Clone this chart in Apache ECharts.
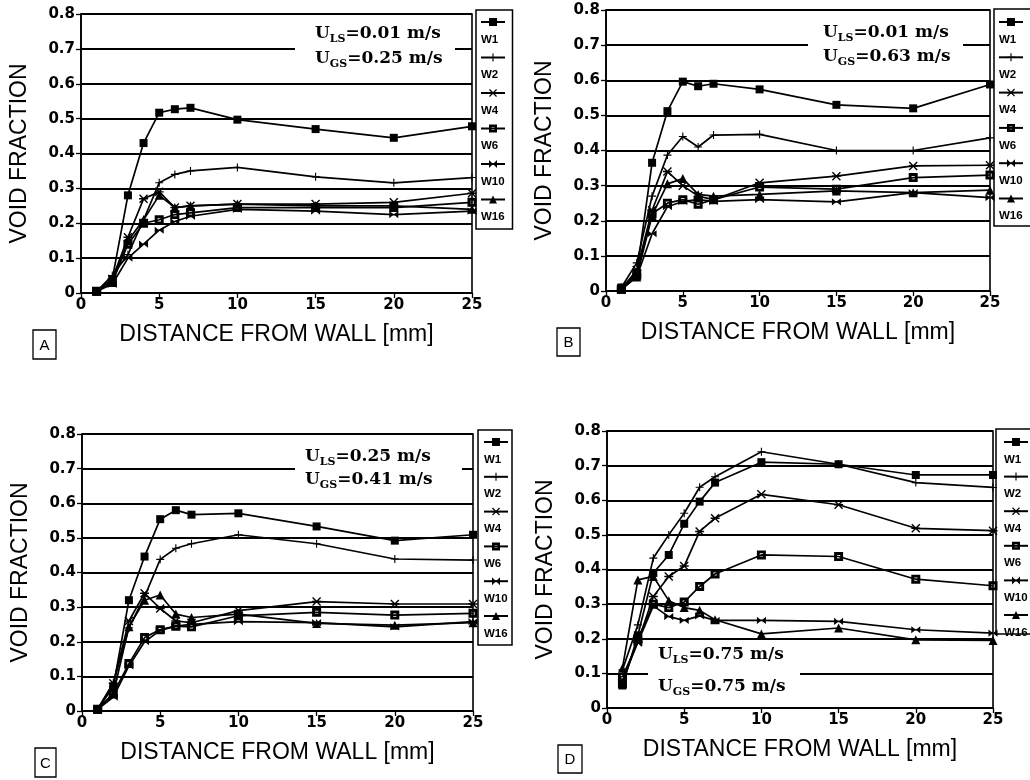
<!DOCTYPE html>
<html>
<head>
<meta charset="utf-8">
<title>Void fraction profiles</title>
<script src="https://cdn.jsdelivr.net/npm/echarts@6.0.0/dist/echarts.min.js"></script>
<style>
  html, body { margin: 0; padding: 0; background: #fff; }
  #chart { width: 1030px; height: 780px; }
</style>
</head>
<body>
<div id="chart"></div>
<script>
// Distance from the wall [mm] at which each probe reading was taken
const distance = [1, 2, 3, 4, 5, 6, 7, 10, 15, 20, 25];
const wallNames = ['W1', 'W2', 'W4', 'W6', 'W10', 'W16'];
const xTicks = [0, 5, 10, 15, 20, 25];
const yTicks = [0, 0.1, 0.2, 0.3, 0.4, 0.5, 0.6, 0.7, 0.8];

// Panel A: U_LS = 0.01 m/s, U_GS = 0.25 m/s
const aW1  = [0.005, 0.04, 0.28, 0.43, 0.517, 0.527, 0.531, 0.497, 0.47, 0.445, 0.478];
const aW2  = [0.005, 0.05, 0.11, 0.21, 0.316, 0.34, 0.35, 0.36, 0.333, 0.316, 0.331];
const aW4  = [0.005, 0.04, 0.16, 0.27, 0.29, 0.245, 0.25, 0.255, 0.255, 0.26, 0.286];
const aW6  = [0.005, 0.03, 0.14, 0.20, 0.21, 0.225, 0.23, 0.245, 0.245, 0.245, 0.26];
const aW10 = [0.005, 0.025, 0.10, 0.14, 0.18, 0.205, 0.22, 0.24, 0.235, 0.225, 0.235];
const aW16 = [0.005, 0.03, 0.15, 0.21, 0.28, 0.245, 0.25, 0.255, 0.25, 0.25, 0.24];

// Panel B: U_LS = 0.01 m/s, U_GS = 0.63 m/s
const bW1  = [0.01, 0.05, 0.365, 0.512, 0.596, 0.583, 0.59, 0.574, 0.53, 0.52, 0.588];
const bW2  = [0.01, 0.08, 0.27, 0.387, 0.44, 0.41, 0.444, 0.446, 0.40, 0.40, 0.436];
const bW4  = [0.005, 0.06, 0.23, 0.34, 0.30, 0.27, 0.26, 0.308, 0.327, 0.356, 0.358];
const bW6  = [0.005, 0.05, 0.22, 0.25, 0.26, 0.247, 0.26, 0.296, 0.29, 0.323, 0.33];
const bW10 = [0.005, 0.04, 0.163, 0.24, 0.255, 0.26, 0.255, 0.26, 0.254, 0.28, 0.266];
const bW16 = [0.005, 0.04, 0.215, 0.305, 0.32, 0.275, 0.27, 0.275, 0.285, 0.28, 0.287];

// Panel C: U_LS = 0.25 m/s, U_GS = 0.41 m/s
const cW1  = [0.005, 0.07, 0.32, 0.446, 0.554, 0.58, 0.567, 0.571, 0.533, 0.492, 0.509];
const cW2  = [0.005, 0.08, 0.24, 0.33, 0.438, 0.47, 0.483, 0.509, 0.483, 0.439, 0.436];
const cW4  = [0.005, 0.08, 0.26, 0.34, 0.296, 0.26, 0.255, 0.29, 0.316, 0.309, 0.309];
const cW6  = [0.005, 0.05, 0.137, 0.212, 0.235, 0.245, 0.243, 0.275, 0.285, 0.277, 0.282];
const cW10 = [0.005, 0.04, 0.13, 0.20, 0.233, 0.245, 0.25, 0.258, 0.255, 0.243, 0.258];
const cW16 = [0.005, 0.05, 0.243, 0.32, 0.335, 0.28, 0.27, 0.28, 0.253, 0.248, 0.255];

// Panel D: U_LS = 0.75 m/s, U_GS = 0.75 m/s
const dW1  = [0.065, 0.21, 0.39, 0.442, 0.532, 0.596, 0.651, 0.71, 0.704, 0.673, 0.673];
const dW2  = [0.11, 0.24, 0.433, 0.50, 0.5625, 0.6375, 0.668, 0.74, 0.704, 0.651, 0.637];
const dW4  = [0.08, 0.19, 0.322, 0.38, 0.41, 0.51, 0.548, 0.617, 0.587, 0.519, 0.512];
const dW6  = [0.07, 0.20, 0.30, 0.29, 0.306, 0.351, 0.387, 0.442, 0.4375, 0.372, 0.353];
const dW10 = [0.09, 0.19, 0.295, 0.264, 0.253, 0.266, 0.253, 0.253, 0.25, 0.226, 0.216];
const dW16 = [0.115, 0.37, 0.38, 0.31, 0.29, 0.282, 0.255, 0.214, 0.231, 0.197, 0.195];

const panelLetters = ['A', 'B', 'C', 'D'];
const ulsValues = ['0.01', '0.01', '0.25', '0.75'];
const ugsValues = ['0.25', '0.63', '0.41', '0.75'];
const panelSeries = [
  [aW1, aW2, aW4, aW6, aW10, aW16],
  [bW1, bW2, bW4, bW6, bW10, bW16],
  [cW1, cW2, cW4, cW6, cW10, cW16],
  [dW1, dW2, dW4, dW6, dW10, dW16]
];

// Marker shapes for each wall position
const markers = {
  W1:  { symbol: 'rect', size: 8 },
  W2:  { symbol: 'path://M4.3,0 L5.7,0 L5.7,4.3 L10,4.3 L10,5.7 L5.7,5.7 L5.7,10 L4.3,10 L4.3,5.7 L0,5.7 L0,4.3 L4.3,4.3 Z', size: 8 },
  W4:  { symbol: 'path://M0,4.2 L10,4.2 L10,5.8 L0,5.8 Z M1.1,0 L10,8.9 L8.9,10 L0,1.1 Z M8.9,0 L10,1.1 L1.1,10 L0,8.9 Z', size: 9 },
  W6:  { symbol: 'path://M0,0 L10,0 L10,10 L0,10 Z M3.2,3.2 L3.2,6.8 L6.8,6.8 L6.8,3.2 Z', size: 9 },
  W10: { symbol: 'path://M0,0 L5,4 L0,8 Z M10,0 L5,4 L10,8 Z', size: 9 },
  W16: { symbol: 'triangle', size: 9 }
};

// Geometry of the four panels (plot rectangles and decorations)
const panels = [
  { left: 81,  top: 14,  right: 472, bottom: 293,
    note: { x: 315, y1: 34, y2: 59, box: [295, 22, 160, 48] },
    legendX: 480, legendY: 23, legendStep: 35.5, legendBox: [476, 10, 36.5, 219],
    letterBox: [33, 330, 23, 29] },
  { left: 606, top: 10,  right: 990, bottom: 291,
    note: { x: 823, y1: 33, y2: 57, box: [808, 20, 155, 48] },
    legendX: 998, legendY: 23, legendStep: 35.3, legendBox: [994, 9, 50, 217],
    letterBox: [557, 328, 23, 28] },
  { left: 82,  top: 434, right: 473, bottom: 711,
    note: { x: 305, y1: 457, y2: 480, box: [295, 444, 167, 48] },
    legendX: 483, legendY: 443, legendStep: 34.8, legendBox: [478, 430, 34, 215],
    letterBox: [35, 748, 21, 29] },
  { left: 607, top: 431, right: 993, bottom: 708,
    note: { x: 658, y1: 655, y2: 687, box: [648, 642, 152, 58] },
    legendX: 1003, legendY: 443, legendStep: 34.6, legendBox: [996, 429, 50, 205],
    letterBox: [558, 745, 24, 28] }
];

const W = 1030, H = 780;
const ICON_H = 10;
const grids = [], xAxes = [], yAxes = [], series = [], legends = [], graphics = [];

panels.forEach((p, i) => {
  grids.push({
    left: p.left, top: p.top, width: p.right - p.left, height: p.bottom - p.top,
    show: true, borderColor: '#000', borderWidth: 1.6, backgroundColor: 'transparent'
  });
  xAxes.push({
    gridIndex: i, type: 'value', min: xTicks[0], max: xTicks[xTicks.length - 1], interval: 5,
    name: 'DISTANCE FROM WALL [mm]', nameLocation: 'middle', nameGap: 30,
    nameTextStyle: { fontFamily: 'Liberation Sans', fontSize: 23, color: '#000' },
    axisLine: { lineStyle: { color: '#000', width: 1.6 } },
    axisTick: { inside: false, length: 5, lineStyle: { color: '#000', width: 1.3 } },
    axisLabel: { margin: 5, color: '#000', fontFamily: 'DejaVu Sans', fontWeight: 'bold', fontSize: 15 },
    splitLine: { show: false }
  });
  yAxes.push({
    gridIndex: i, type: 'value', min: yTicks[0], max: yTicks[yTicks.length - 1], interval: 0.1,
    name: 'VOID FRACTION', nameLocation: 'middle', nameGap: 50,
    nameTextStyle: { fontFamily: 'Liberation Sans', fontSize: 23, color: '#000' },
    axisLine: { lineStyle: { color: '#000', width: 1.6 } },
    axisTick: { length: 5, lineStyle: { color: '#000', width: 1.3 } },
    axisLabel: { margin: 6, color: '#000', fontFamily: 'DejaVu Sans', fontWeight: 'bold', fontSize: 15 },
    splitLine: { show: true, lineStyle: { color: '#000', width: 1.8 } }
  });

  wallNames.forEach((name, k) => {
    const values = panelSeries[i][k];
    series.push({
      name: name, type: 'line', xAxisIndex: i, yAxisIndex: i,
      data: distance.map((d, j) => [d, values[j]]),
      symbol: markers[name].symbol, symbolSize: markers[name].size, symbolKeepAspect: true,
      showAllSymbol: true,
      lineStyle: { color: '#000', width: 1.7 },
      itemStyle: { color: '#000', borderWidth: 0 },
      emphasis: { disabled: true },
      z: 3
    });
  });

  // Legend frame
  const lb = p.legendBox;
  graphics.push({
    type: 'rect', shape: { x: lb[0], y: lb[1], width: lb[2], height: lb[3] },
    style: { fill: '#fff', stroke: '#000', lineWidth: 1.5 }, z: 1
  });

  // One legend key per wall position, with its name written underneath
  wallNames.forEach((name, k) => {
    const cy = p.legendY + k * p.legendStep;
    legends.push({
      orient: 'vertical', left: p.legendX, top: cy - ICON_H / 2, padding: 0,
      itemWidth: 24, itemHeight: ICON_H, itemGap: 0,
      data: [name], formatter: () => ' ',
      textStyle: { fontSize: 6, color: '#000' },
      selectedMode: false
    });
    graphics.push({
      type: 'text', x: p.legendX + 1, y: cy + 16.5,
      style: { text: name, fontFamily: 'Liberation Sans', fontWeight: 'bold', fontSize: 11.5,
               fill: '#000', align: 'left', verticalAlign: 'middle' },
      z: 20
    });
  });

  // Flow condition note
  const n = p.note;
  graphics.push({
    type: 'rect', shape: { x: n.box[0], y: n.box[1], width: n.box[2], height: n.box[3] },
    style: { fill: '#fff' }, z: 5
  });
  const rich = {
    b: { fontFamily: 'DejaVu Serif', fontWeight: 'bold', fontSize: 17, lineHeight: 22, verticalAlign: 'middle', fill: '#000' },
    s: { fontFamily: 'DejaVu Serif', fontWeight: 'bold', fontSize: 11, lineHeight: 11, verticalAlign: 'bottom', fill: '#000' }
  };
  graphics.push({
    type: 'text', x: n.x, y: n.y1, z: 6,
    style: { text: '{b|U}{s|LS}{b|=' + ulsValues[i] + ' m/s}', rich: rich, verticalAlign: 'middle', align: 'left' }
  });
  graphics.push({
    type: 'text', x: n.x, y: n.y2, z: 6,
    style: { text: '{b|U}{s|GS}{b|=' + ugsValues[i] + ' m/s}', rich: rich, verticalAlign: 'middle', align: 'left' }
  });

  // Boxed panel letter
  const bx = p.letterBox;
  graphics.push({
    type: 'rect', shape: { x: bx[0], y: bx[1], width: bx[2], height: bx[3] },
    style: { fill: '#fff', stroke: '#000', lineWidth: 1.3 }, z: 5
  });
  graphics.push({
    type: 'text', x: bx[0] + bx[2] / 2, y: bx[1] + bx[3] / 2 + 1, z: 6,
    style: { text: panelLetters[i], fontFamily: 'Liberation Sans', fontSize: 15, fill: '#000',
             align: 'center', verticalAlign: 'middle' }
  });
});

const chart = echarts.init(document.getElementById('chart'), null, { renderer: 'canvas', width: W, height: H });
chart.setOption({
  animation: false,
  backgroundColor: '#fff',
  grid: grids,
  xAxis: xAxes,
  yAxis: yAxes,
  legend: legends,
  series: series,
  graphic: { elements: graphics }
});
</script>
</body>
</html>
